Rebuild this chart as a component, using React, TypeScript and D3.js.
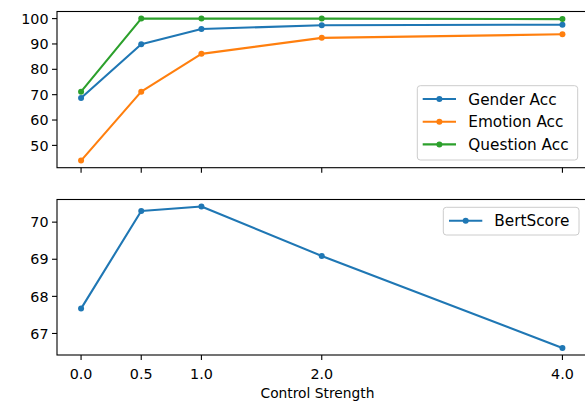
import React from "react";
import * as d3 from "d3";

const xValues = [0.0, 0.5, 1.0, 2.0, 4.0];
const xTickLabels = ["0.0", "0.5", "1.0", "2.0", "4.0"];
const genderAcc = [68.7, 89.9, 95.9, 97.4, 97.6];
const emotionAcc = [44.0, 71.2, 86.1, 92.4, 93.8];
const questionAcc = [71.2, 100.0, 100.0, 100.0, 99.8];
const bertScore = [67.67, 70.3, 70.42, 69.09, 66.61];
const topTicks = [50, 60, 70, 80, 90, 100];
const bottomTicks = [67, 68, 69, 70];
const topSeriesNames = ["Gender Acc", "Emotion Acc", "Question Acc"];
const colors = ["#1f77b4", "#ff7f0e", "#2ca02c"];

const FONT = "DejaVu Sans, sans-serif";

export default function App() {
  const W = 585;
  const H = 403;
  const left = 57;
  const right = 586.5;
  const top1 = 11.5, bot1 = 167.7;
  const top2 = 199.5, bot2 = 355;

  const x = d3.scaleLinear().domain([-0.2, 4.2]).range([left, right]);
  const y1 = d3.scaleLinear().domain([41.2, 102.8]).range([bot1, top1]);
  const y2 = d3.scaleLinear().domain([66.42, 70.61]).range([bot2, top2]);

  const topSeries = [genderAcc, emotionAcc, questionAcc];

  const line1 = d3.line<number>().x((_, i) => x(xValues[i])).y((d) => y1(d));
  const line2 = d3.line<number>().x((_, i) => x(xValues[i])).y((d) => y2(d));

  const tickFs = 14.3;
  const legFs = 15.3;

  return (
    <svg width={W} height={H} style={{ position: "absolute", left: 0, top: 0 }}>
      <rect x={0} y={0} width={W} height={H} fill="#fff" />
      {/* Top panel */}
      <g>
        {topSeries.map((s, k) => (
          <g key={k}>
            <path d={line1(s) || ""} fill="none" stroke={colors[k]} strokeWidth={2.1} strokeLinejoin="round" />
            {s.map((v, i) => (
              <circle key={i} cx={x(xValues[i])} cy={y1(v)} r={3} fill={colors[k]} />
            ))}
          </g>
        ))}
        <rect x={left} y={top1} width={right - left} height={bot1 - top1} fill="none" stroke="#000" strokeWidth={1.1} />
        {topTicks.map((t) => (
          <g key={t}>
            <line x1={left - 5} x2={left} y1={y1(t)} y2={y1(t)} stroke="#000" strokeWidth={1.1} />
            <text x={left - 8.5} y={y1(t)} dy="0.36em" textAnchor="end" fontFamily={FONT} fontSize={tickFs} fill="#000">
              {t}
            </text>
          </g>
        ))}
        {xValues.map((v, i) => (
          <line key={i} x1={x(v)} x2={x(v)} y1={bot1} y2={bot1 + 5} stroke="#000" strokeWidth={1.1} />
        ))}
        {/* legend */}
        <rect x={417.3} y={85.7} width={160.4} height={74.3} rx={3} fill="#fff" fillOpacity={0.8} stroke="#cccccc" strokeWidth={1} />
        {topSeriesNames.map((name, k) => {
          const ly = 99 + k * 22.7;
          return (
            <g key={name}>
              <line x1={422.7} x2={456} y1={ly} y2={ly} stroke={colors[k]} strokeWidth={2.1} />
              <circle cx={439.4} cy={ly} r={3} fill={colors[k]} />
              <text x={468.3} y={ly} dy="0.36em" fontFamily={FONT} fontSize={legFs} fill="#000">
                {name}
              </text>
            </g>
          );
        })}
      </g>
      {/* Bottom panel */}
      <g>
        <path d={line2(bertScore) || ""} fill="none" stroke={colors[0]} strokeWidth={2.1} strokeLinejoin="round" />
        {bertScore.map((v, i) => (
          <circle key={i} cx={x(xValues[i])} cy={y2(v)} r={3} fill={colors[0]} />
        ))}
        <rect x={left} y={top2} width={right - left} height={bot2 - top2} fill="none" stroke="#000" strokeWidth={1.1} />
        {bottomTicks.map((t) => (
          <g key={t}>
            <line x1={left - 5} x2={left} y1={y2(t)} y2={y2(t)} stroke="#000" strokeWidth={1.1} />
            <text x={left - 8.5} y={y2(t)} dy="0.36em" textAnchor="end" fontFamily={FONT} fontSize={tickFs} fill="#000">
              {t}
            </text>
          </g>
        ))}
        {xValues.map((v, i) => (
          <g key={i}>
            <line x1={x(v)} x2={x(v)} y1={bot2} y2={bot2 + 5} stroke="#000" strokeWidth={1.1} />
            <text x={x(v)} y={379.3} textAnchor="middle" fontFamily={FONT} fontSize={tickFs} fill="#000">
              {xTickLabels[i]}
            </text>
          </g>
        ))}
        <rect x={443.3} y={207.3} width={135.7} height={27.7} rx={3} fill="#fff" fillOpacity={0.8} stroke="#cccccc" strokeWidth={1} />
        <line x1={449} x2={482.3} y1={220.7} y2={220.7} stroke={colors[0]} strokeWidth={2.1} />
        <circle cx={465.7} cy={220.7} r={3} fill={colors[0]} />
        <text x={494.3} y={220.7} dy="0.36em" fontFamily={FONT} fontSize={legFs} fill="#000">
          BertScore
        </text>
        <text x={317.5} y={398.3} textAnchor="middle" fontFamily={FONT} fontSize={13.8} fill="#000">
          Control Strength
        </text>
      </g>
    </svg>
  );
}
